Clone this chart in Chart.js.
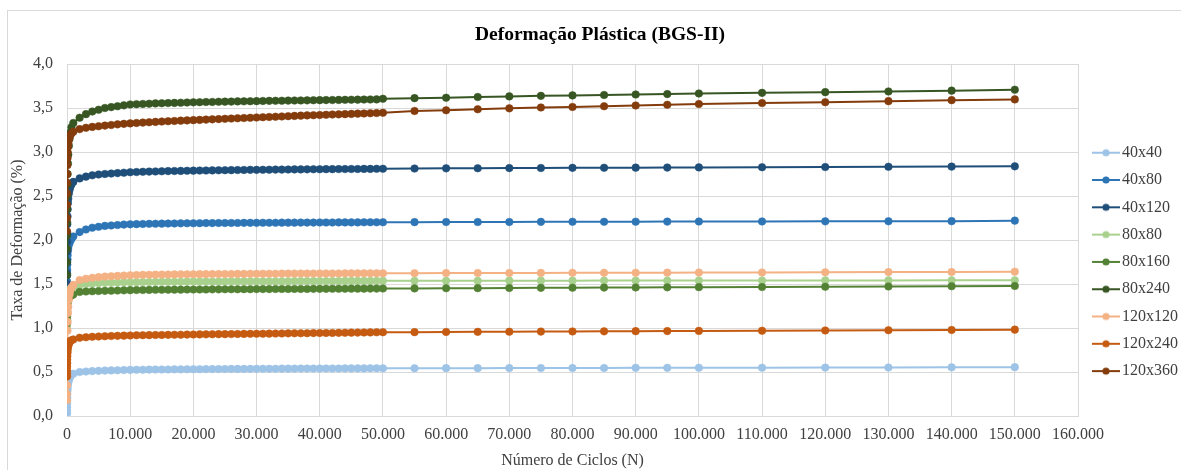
<!DOCTYPE html>
<html>
<head>
<meta charset="utf-8">
<script src="https://cdn.jsdelivr.net/npm/chart.js@4"></script>
<style>
html,body{margin:0;padding:0;background:#fff;}
#wrap{position:relative;width:1181px;height:470px;}
</style>
</head>
<body>
<div id="wrap"><canvas id="c" width="1181" height="470"></canvas></div>
<script>
// ---------------- DATA ----------------
const chartTitle = 'Deformação Plástica (BGS-II)';
const xTitle = 'Número de Ciclos (N)';
const yTitle = 'Taxa de Deformação (%)';
const seriesNames = ['40x40','40x80','40x120','80x80','80x160','80x240','120x120','120x240','120x360'];
const seriesColors = ['#9DC3E6','#2E75B6','#1F4E79','#A9D18E','#548235','#375623','#F4B183','#C55A11','#843C0C'];

const cycles = [1,2,5,10,20,30,50,75,100,150,200,300,400,500,700,
  1000,2000,3000,4000,5000,6000,7000,8000,9000,10000,
  11000,12000,13000,14000,15000,16000,17000,18000,19000,20000,
  21000,22000,23000,24000,25000,26000,27000,28000,29000,30000,
  31000,32000,33000,34000,35000,36000,37000,38000,39000,40000,
  41000,42000,43000,44000,45000,46000,47000,48000,49000,50000,
  55000,60000,65000,70000,75000,80000,85000,90000,95000,100000,
  110000,120000,130000,140000,150000];

const s40x40 = [0.03,0.06,0.10,0.14,0.18,0.21,0.25,0.29,0.32,0.36,0.38,0.41,0.43,0.45,0.47,
  0.48,0.50,0.505,0.51,0.513,0.516,0.518,0.52,0.522,0.524,
  0.525,0.526,0.527,0.528,0.528,0.529,0.53,0.53,0.531,0.532,
  0.532,0.533,0.533,0.534,0.534,0.535,0.535,0.535,0.536,0.536,
  0.537,0.537,0.537,0.538,0.538,0.538,0.539,0.539,0.539,0.54,
  0.54,0.54,0.54,0.541,0.541,0.541,0.541,0.542,0.542,0.542,
  0.543,0.544,0.544,0.545,0.545,0.546,0.546,0.547,0.547,0.548,
  0.549,0.55,0.551,0.553,0.555];
const s40x80 = [1.30,1.38,1.46,1.53,1.60,1.66,1.72,1.78,1.83,1.88,1.91,1.95,1.97,1.99,2.01,
  2.04,2.09,2.12,2.14,2.15,2.16,2.165,2.17,2.175,2.178,
  2.18,2.182,2.184,2.185,2.186,2.187,2.188,2.189,2.19,2.19,
  2.191,2.192,2.192,2.193,2.193,2.194,2.194,2.195,2.195,2.195,
  2.196,2.196,2.196,2.197,2.197,2.197,2.198,2.198,2.198,2.199,
  2.199,2.199,2.2,2.2,2.2,2.2,2.201,2.201,2.201,2.202,
  2.203,2.204,2.204,2.205,2.206,2.207,2.207,2.208,2.209,2.21,
  2.211,2.212,2.213,2.214,2.22];
const s40x120 = [1.50,1.62,1.75,1.87,1.98,2.08,2.18,2.27,2.35,2.42,2.47,2.53,2.57,2.60,2.63,
  2.66,2.70,2.72,2.735,2.745,2.75,2.755,2.76,2.765,2.77,
  2.772,2.775,2.777,2.779,2.781,2.783,2.784,2.785,2.787,2.788,
  2.789,2.79,2.791,2.792,2.793,2.794,2.795,2.796,2.797,2.797,
  2.798,2.799,2.8,2.8,2.801,2.802,2.802,2.803,2.804,2.804,
  2.805,2.805,2.806,2.806,2.807,2.807,2.808,2.808,2.809,2.81,
  2.812,2.814,2.815,2.817,2.818,2.82,2.821,2.822,2.823,2.825,
  2.827,2.829,2.832,2.834,2.837];
const s80x80 = [1.00,1.05,1.10,1.15,1.19,1.23,1.27,1.31,1.34,1.37,1.39,1.42,1.43,1.44,1.45,
  1.46,1.49,1.50,1.505,1.51,1.513,1.515,1.517,1.519,1.52,
  1.521,1.522,1.523,1.524,1.525,1.525,1.526,1.526,1.527,1.527,
  1.528,1.528,1.529,1.529,1.529,1.53,1.53,1.53,1.531,1.531,
  1.531,1.532,1.532,1.532,1.532,1.533,1.533,1.533,1.533,1.534,
  1.534,1.534,1.534,1.535,1.535,1.535,1.535,1.535,1.536,1.536,
  1.536,1.537,1.537,1.538,1.538,1.538,1.539,1.539,1.539,1.54,
  1.54,1.541,1.541,1.542,1.542];
const s80x160 = [1.05,1.09,1.13,1.16,1.19,1.22,1.25,1.28,1.30,1.32,1.335,1.35,1.36,1.365,1.37,
  1.38,1.41,1.415,1.418,1.42,1.422,1.424,1.426,1.428,1.43,
  1.431,1.432,1.433,1.434,1.434,1.435,1.436,1.436,1.437,1.437,
  1.438,1.438,1.439,1.439,1.44,1.44,1.44,1.441,1.441,1.442,
  1.442,1.442,1.443,1.443,1.443,1.444,1.444,1.444,1.445,1.445,
  1.445,1.446,1.446,1.446,1.447,1.447,1.447,1.448,1.448,1.449,
  1.45,1.452,1.453,1.455,1.456,1.458,1.459,1.461,1.462,1.464,
  1.466,1.469,1.472,1.475,1.478];
const s80x240 = [1.60,1.75,1.90,2.05,2.20,2.35,2.50,2.63,2.75,2.87,2.97,3.07,3.15,3.22,3.28,
  3.33,3.39,3.43,3.46,3.48,3.50,3.51,3.52,3.53,3.54,
  3.543,3.546,3.549,3.552,3.554,3.556,3.558,3.56,3.562,3.564,
  3.566,3.568,3.569,3.571,3.572,3.573,3.575,3.576,3.577,3.578,
  3.58,3.581,3.582,3.583,3.584,3.585,3.586,3.587,3.588,3.589,
  3.59,3.591,3.592,3.593,3.594,3.595,3.596,3.597,3.598,3.605,
  3.612,3.617,3.625,3.632,3.638,3.643,3.648,3.654,3.658,3.665,
  3.672,3.68,3.688,3.697,3.708];
const s120x120 = [0.18,0.25,0.35,0.47,0.60,0.72,0.85,0.97,1.07,1.17,1.24,1.32,1.38,1.42,1.46,
  1.49,1.545,1.56,1.57,1.578,1.584,1.588,1.592,1.596,1.60,
  1.602,1.604,1.605,1.606,1.607,1.608,1.609,1.61,1.61,1.611,
  1.612,1.612,1.613,1.613,1.614,1.614,1.615,1.615,1.616,1.616,
  1.617,1.617,1.617,1.618,1.618,1.618,1.619,1.619,1.619,1.62,
  1.62,1.62,1.62,1.621,1.621,1.621,1.622,1.622,1.622,1.622,
  1.623,1.624,1.625,1.625,1.626,1.627,1.628,1.628,1.629,1.63,
  1.631,1.633,1.635,1.637,1.64];
const s120x240 = [0.45,0.48,0.52,0.56,0.60,0.64,0.68,0.72,0.75,0.78,0.80,0.82,0.84,0.85,0.86,
  0.87,0.89,0.895,0.90,0.903,0.906,0.909,0.911,0.913,0.915,
  0.917,0.918,0.919,0.92,0.921,0.922,0.923,0.924,0.925,0.926,
  0.927,0.928,0.929,0.93,0.93,0.931,0.932,0.933,0.934,0.935,
  0.935,0.936,0.937,0.938,0.939,0.94,0.94,0.941,0.942,0.943,
  0.944,0.944,0.945,0.946,0.947,0.948,0.949,0.95,0.951,0.952,
  0.953,0.955,0.956,0.958,0.959,0.961,0.962,0.964,0.965,0.967,
  0.969,0.972,0.975,0.978,0.981];
const s120x360 = [2.10,2.25,2.40,2.53,2.65,2.75,2.85,2.93,3.00,3.06,3.10,3.14,3.17,3.19,3.21,
  3.23,3.26,3.275,3.285,3.293,3.30,3.307,3.314,3.32,3.325,
  3.33,3.334,3.338,3.342,3.346,3.35,3.353,3.356,3.359,3.362,
  3.365,3.368,3.371,3.374,3.377,3.38,3.383,3.386,3.389,3.392,
  3.395,3.398,3.401,3.404,3.407,3.41,3.413,3.416,3.418,3.42,
  3.423,3.426,3.428,3.43,3.433,3.436,3.438,3.441,3.443,3.446,
  3.466,3.474,3.486,3.496,3.506,3.512,3.52,3.528,3.537,3.545,
  3.556,3.566,3.578,3.589,3.598];

const seriesValues = [s40x40,s40x80,s40x120,s80x80,s80x160,s80x240,s120x120,s120x240,s120x360];

// ---------------- STYLE ----------------
const FONT = "'Liberation Serif','Times New Roman',serif";
const TXT = '#404040';
const GRID = '#D9D9D9';

function legendIcon(color){
  const c = document.createElement('canvas');
  c.width = 28; c.height = 10;
  const g = c.getContext('2d');
  g.strokeStyle = color; g.lineWidth = 2;
  g.beginPath(); g.moveTo(0,5); g.lineTo(28,5); g.stroke();
  g.fillStyle = color;
  g.beginPath(); g.arc(14,5,3.6,0,Math.PI*2); g.fill();
  return c;
}
const icons = seriesColors.map(legendIcon);

const datasets = seriesNames.map((name,i)=>({
  label: name,
  data: cycles.map((c,j)=>({x:c, y:seriesValues[i][j]})),
  borderColor: seriesColors[i],
  backgroundColor: seriesColors[i],
  pointBackgroundColor: seriesColors[i],
  pointBorderColor: seriesColors[i],
  borderWidth: 2,
  pointRadius: 3.8,
  pointBorderWidth: 0.5,
  pointHoverRadius: 3.8,
  tension: 0,
  order: seriesNames.length - i
}));

const framePlugin = {
  id: 'frame',
  beforeDraw(chart){
    const ctx = chart.ctx;
    ctx.save();
    ctx.fillStyle = '#fff';
    ctx.fillRect(0,0,chart.width,chart.height);
    ctx.strokeStyle = GRID; ctx.lineWidth = 1;
    ctx.strokeRect(7.5,10.5,1200,500);
    ctx.restore();
  }
};

const fmtThousands = v => {
  const s = Math.round(v).toString();
  return s.replace(/\B(?=(\d{3})+(?!\d))/g, '.');
};

new Chart(document.getElementById('c'), {
  type: 'line',
  data: { datasets },
  plugins: [framePlugin],
  options: {
    responsive: false,
    animation: false,
    layout: { padding: { left: 12, right: -7, top: 0, bottom: 0 } },
    plugins: {
      tooltip: { enabled: false },
      title: {
        display: true,
        text: chartTitle,
        color: '#000',
        font: { family: FONT, size: 19.5, weight: 'bold' },
        padding: { top: 23.3, bottom: 17.3 }
      },
      legend: {
        display: true,
        position: 'right',
        title: { display: true, text: ' ', font: { size: 10, lineHeight: 1 }, padding: { top: 43.8, bottom: 0 } },
        labels: {
          usePointStyle: true,
          pointStyleWidth: 16,
          padding: 11.3,
          color: TXT,
          font: { family: FONT, size: 16 },
          sort: (a,b) => a.datasetIndex - b.datasetIndex,
          generateLabels(chart){
            const items = Chart.defaults.plugins.legend.labels.generateLabels(chart);
            items.forEach(it => { it.pointStyle = icons[it.datasetIndex]; it.fontColor = TXT; });
            return items;
          }
        }
      }
    },
    scales: {
      x: {
        type: 'linear',
        min: 0, max: 160000,
        ticks: {
          stepSize: 10000,
          color: TXT,
          padding: 9,
          font: { family: FONT, size: 16 },
          maxRotation: 0,
          callback: v => fmtThousands(v)
        },
        grid: { color: GRID, lineWidth: 1, drawTicks: false },
        border: { color: GRID, width: 1 },
        title: { display: true, text: xTitle, color: TXT, font: { family: FONT, size: 16 }, padding: { top: 0, bottom: 0 } },
        afterFit(s){ s.height = 54; }
      },
      y: {
        type: 'linear',
        min: 0, max: 4,
        ticks: {
          stepSize: 0.5,
          color: TXT,
          padding: 14,
          font: { family: FONT, size: 16 },
          callback: v => v.toFixed(1).replace('.', ',')
        },
        grid: { color: GRID, lineWidth: 1, drawTicks: false },
        border: { color: GRID, width: 1 },
        title: { display: true, text: yTitle, color: TXT, font: { family: FONT, size: 16 }, padding: { top: -3.6, bottom: 0 } },
        afterFit(s){ s.width = 55; }
      },
      yR: {
        type: 'linear',
        position: 'right',
        display: true,
        grid: { display: false, drawTicks: false },
        border: { display: false },
        ticks: { display: false },
        afterFit(s){ s.width = 8.7; }
      }
    }
  }
});
</script>
</body>
</html>
